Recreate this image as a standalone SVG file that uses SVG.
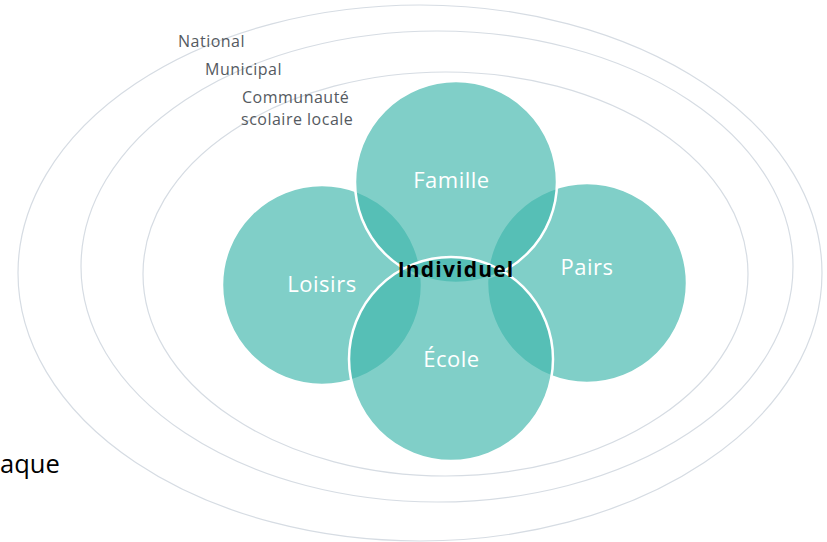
<svg xmlns="http://www.w3.org/2000/svg" width="827" height="542" viewBox="0 0 827 542">
<style>
.ring{fill:none;stroke:#d6dce3;stroke-width:1.2}
.lvl{font-family:"Open Sans","Liberation Sans",sans-serif;font-size:16px;letter-spacing:0.5px;fill:#555a5f}
.bub{fill:#41b8ad;fill-opacity:0.67;stroke:#ffffff;stroke-width:2.5}
.lbl{font-family:"Open Sans","Liberation Sans",sans-serif;font-size:22px;font-weight:400;letter-spacing:0.5px;fill:#ffffff;text-anchor:middle}
.ind{font-family:"Open Sans","Liberation Sans",sans-serif;font-size:21px;font-weight:700;letter-spacing:1.2px;fill:#000000;text-anchor:middle}
</style>
<rect width="827" height="542" fill="#ffffff"/>
<g id="rings">
<ellipse class="ring" cx="420" cy="273" rx="402" ry="268"/>
<ellipse class="ring" cx="437" cy="266.5" rx="356" ry="235.5"/>
<ellipse class="ring" cx="445.5" cy="274" rx="302.5" ry="202"/>
</g>
<g id="ring-labels">
<text class="lvl" x="178" y="47">National</text>
<text class="lvl" x="205" y="75">Municipal</text>
<text class="lvl" x="242" y="103">Communauté</text>
<text class="lvl" x="241" y="125">scolaire locale</text>
</g>
<g id="loisirs"><circle class="bub" cx="322" cy="285" r="100"/></g>
<g id="pairs"><circle class="bub" cx="587" cy="283" r="100"/></g>
<g id="famille"><circle class="bub" cx="456" cy="182" r="101"/></g>
<g id="ecole"><circle class="bub" cx="451" cy="359" r="102"/></g>
<g id="labels">
<text class="lbl" x="451.5" y="188">Famille</text>
<text class="lbl" x="322" y="292">Loisirs</text>
<text class="lbl" x="587" y="275">Pairs</text>
<text class="lbl" x="451.5" y="367">École</text>
</g>
<g id="individuel"><text class="ind" x="456" y="277">Individuel</text></g>
<g id="connectors"></g>
<text x="0" y="473" font-family="'Open Sans','Noto Sans',sans-serif" font-size="25.5" fill="#000000">aque</text>
</svg>
